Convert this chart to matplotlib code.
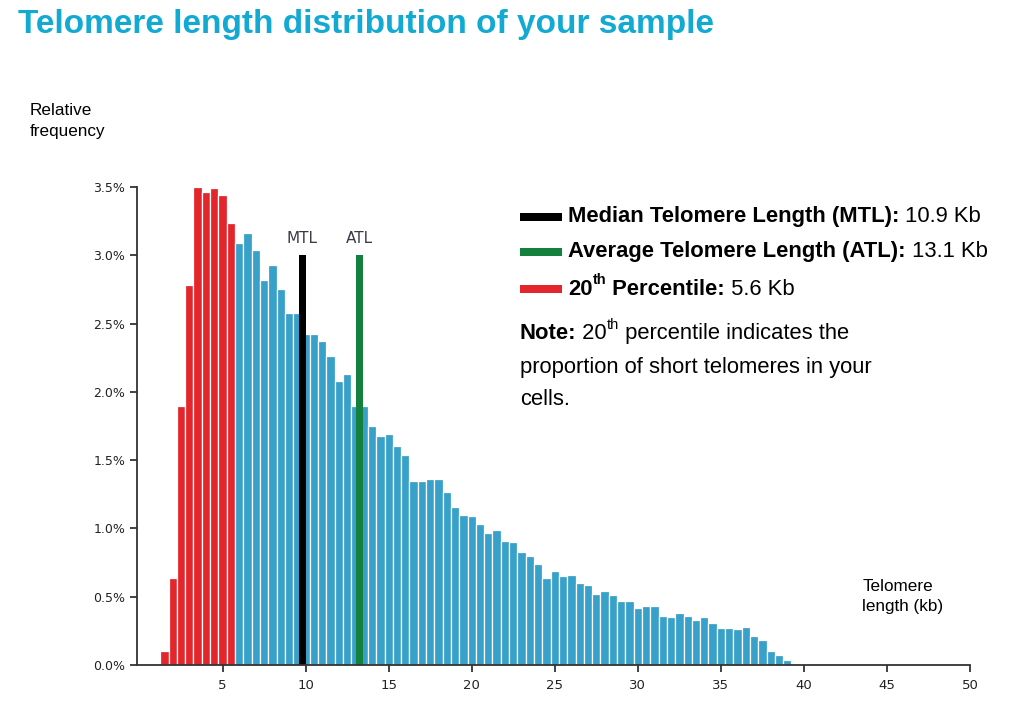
import matplotlib.pyplot as plt
import numpy as np
from matplotlib.patches import Rectangle

# telomere length bins (kb) and relative frequency (%)
length_kb = np.arange(1.5, 39.01, 0.5)
freq_pct = [0.10, 0.64, 1.90, 2.78, 3.50, 3.46, 3.49, 3.44, 3.24, 3.09,
            3.16, 3.04, 2.82, 2.93, 2.75, 2.58, 2.58, 2.42, 2.42, 2.37,
            2.26, 2.08, 2.13, 1.90, 1.90, 1.75, 1.68, 1.69, 1.60, 1.54,
            1.35, 1.35, 1.36, 1.36, 1.27, 1.16, 1.10, 1.09, 1.03, 0.97,
            0.99, 0.91, 0.90, 0.83, 0.80, 0.74, 0.64, 0.69, 0.65, 0.66,
            0.60, 0.585, 0.52, 0.54, 0.51, 0.47, 0.47, 0.42, 0.43, 0.43,
            0.36, 0.35, 0.38, 0.36, 0.33, 0.35, 0.31, 0.27, 0.27, 0.26,
            0.28, 0.215, 0.185, 0.10, 0.075, 0.035]

mtl_kb, atl_kb, pct20_kb = 10.9, 13.1, 5.6
# where the marker bars are drawn on the axis
mtl_pos, atl_pos, marker_h = 9.8, 13.25, 3.0

red = '#e3262b'
blue = '#37a1c9'
green = '#13803d'
cyan = '#12a9d3'

colors = [red if x < pct20_kb else blue for x in length_kb]

fig = plt.figure(figsize=(10.24, 7.07), dpi=100)
ax = fig.add_axes([0.1338, 0.0594, 0.8135, 0.6761])

ax.bar(length_kb, freq_pct, width=0.5, color=colors, edgecolor='white', linewidth=0.9)
ax.bar([mtl_pos], [marker_h], width=0.4, color='black', linewidth=0)
ax.bar([atl_pos], [marker_h], width=0.4, color=green, linewidth=0)
ax.text(mtl_pos, marker_h + 0.07, 'MTL', ha='center', va='bottom', fontsize=11, color='#3a3a48')
ax.text(atl_pos, marker_h + 0.07, 'ATL', ha='center', va='bottom', fontsize=11, color='#3a3a48')

ax.set_xlim(-0.15, 50)
ax.set_ylim(0, 3.5)
ax.set_xticks(np.arange(5, 51, 5))
yt = np.arange(0, 3.51, 0.5)
ax.set_yticks(yt)
ax.set_yticklabels(['%.1f%%' % v for v in yt])
ax.tick_params(labelsize=9, colors='#222222', length=5, width=1.2)
ax.tick_params(axis='x', labelsize=9.5, pad=5)
for s in ['top', 'right']:
    ax.spines[s].set_visible(False)
for s in ['left', 'bottom']:
    ax.spines[s].set_linewidth(1.3)
    ax.spines[s].set_color('#333333')

sans = 'Liberation Sans'
fs = 15.8
fig.text(0.0176, 0.966, 'Telomere length distribution of your sample', fontsize=24,
         fontweight='bold', color=cyan, family=sans, va='center')
fig.text(0.0293, 0.829, 'Relative\nfrequency', fontsize=12.3, family=sans, va='center', linespacing=1.45)
fig.text(0.842, 0.156, 'Telomere\nlength (kb)', fontsize=12.3, family=sans, va='center', linespacing=1.45)


def chain(prev, ref, s, size, bold, va='center', yfrac=0.5):
    # place text s right after prev, vertically aligned on ref
    return ax.annotate(s, xy=(1, yfrac), xycoords=(prev, ref), fontsize=size,
                       fontweight='bold' if bold else 'normal', family=sans, va=va,
                       annotation_clip=False)


# legend lines
legend_rows = [('black', 'Median Telomere Length (MTL):', ' %.1f Kb' % mtl_kb, 0.6931),
               (green, 'Average Telomere Length (ATL):', ' %.1f Kb' % atl_kb, 0.6436),
               (red, None, ' %.1f Kb' % pct20_kb, 0.5912)]
for c, bold_txt, val, y in legend_rows:
    fig.add_artist(Rectangle((0.5075, y - 0.0055), 0.0415, 0.011, transform=fig.transFigure,
                             color=c, lw=0))
    if bold_txt is not None:
        t = fig.text(0.5547, y, bold_txt, fontsize=fs, fontweight='bold', family=sans, va='center')
        chain(t, t, val, fs, False)
    else:
        t0 = fig.text(0.5547, y, '20', fontsize=fs, fontweight='bold', family=sans, va='center')
        t1 = chain(t0, t0, 'th', 10.5, True, va='center', yfrac=0.95)
        t2 = chain(t1, t0, ' Percentile:', fs, True)
        chain(t2, t0, val, fs, False)

# note
n0 = fig.text(0.5078, 0.5276, 'Note:', fontsize=fs, fontweight='bold', family=sans, va='center')
n1 = chain(n0, n0, ' 20', fs, False)
n2 = chain(n1, n0, 'th', 10.5, False, va='center', yfrac=0.95)
chain(n2, n0, ' percentile indicates the', fs, False)
fig.text(0.5078, 0.4809, 'proportion of short telomeres in your', fontsize=fs, family=sans, va='center')
fig.text(0.5078, 0.4356, 'cells.', fontsize=fs, family=sans, va='center')

plt.savefig('out.png', dpi=100)
